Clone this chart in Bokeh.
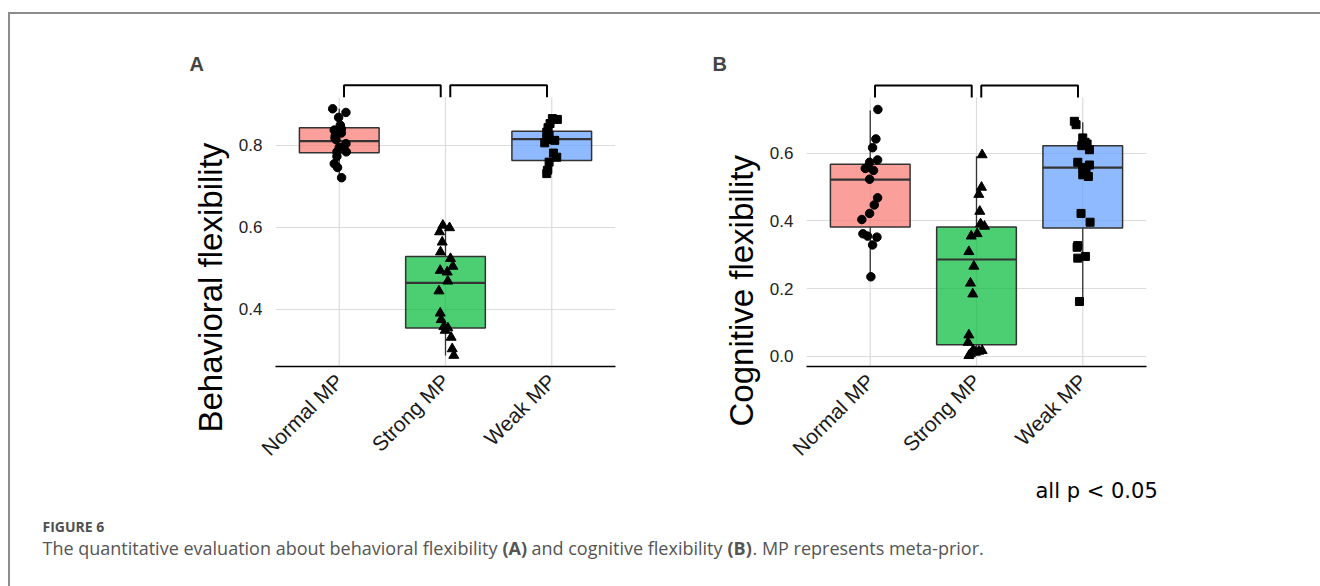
import math
from bokeh.plotting import figure
from bokeh.models import Range1d, FixedTicker, Title, PrintfTickFormatter
from bokeh.layouts import column, row
from bokeh.embed import file_html
from bokeh.resources import INLINE
from bokeh.core.properties import value

# ---------------- data ----------------
categories = ["Normal MP", "Strong MP", "Weak MP"]
cat_pos = [1, 2, 3]
box_colors = ["#F8766D", "#00BA38", "#619CFF"]
markers = ["circle", "triangle", "square"]

# Panel A: behavioral flexibility (box statistics)
a_q1 = [0.782, 0.355, 0.763]
a_med = [0.810, 0.465, 0.815]
a_q3 = [0.843, 0.529, 0.834]
a_lo = [0.721, 0.288, 0.731]
a_hi = [0.889, 0.605, 0.865]

# Panel A points
a_normal = [0.889, 0.880, 0.868, 0.849, 0.840, 0.837, 0.830, 0.824, 0.818, 0.814, 0.804, 0.795, 0.784, 0.784, 0.773, 0.755, 0.746, 0.721]
a_normal_jit = [-0.062, 0.063, -0.006, 0.010, 0.020, -0.047, 0.020, -0.037, -0.040, -0.031, 0.063, 0.000, -0.022, 0.066, -0.022, -0.047, -0.016, 0.022]
a_strong = [0.605, 0.599, 0.589, 0.564, 0.540, 0.524, 0.505, 0.495, 0.491, 0.469, 0.445, 0.391, 0.375, 0.358, 0.355, 0.349, 0.332, 0.304, 0.288]
a_strong_jit = [-0.025, 0.038, -0.056, -0.031, -0.047, 0.047, 0.069, -0.050, 0.016, 0.022, -0.062, -0.050, -0.041, -0.016, 0.022, -0.003, 0.053, 0.063, 0.078]
a_weak = [0.865, 0.863, 0.853, 0.843, 0.832, 0.824, 0.814, 0.812, 0.806, 0.781, 0.771, 0.759, 0.739, 0.731]
a_weak_jit = [0.006, 0.053, -0.016, -0.035, -0.047, -0.025, -0.047, 0.028, -0.066, 0.016, 0.047, -0.025, -0.041, -0.047]

# Panel B: cognitive flexibility (box statistics)
b_q1 = [0.382, 0.034, 0.379]
b_med = [0.522, 0.286, 0.557]
b_q3 = [0.567, 0.382, 0.622]
b_lo = [0.235, 0.002, 0.162]
b_hi = [0.726, 0.591, 0.691]

# Panel B points
b_normal = [0.729, 0.642, 0.616, 0.580, 0.573, 0.558, 0.555, 0.549, 0.523, 0.468, 0.447, 0.422, 0.404, 0.362, 0.355, 0.352, 0.329, 0.235]
b_normal_jit = [0.072, 0.053, 0.022, 0.069, -0.006, -0.025, -0.047, 0.031, -0.006, 0.069, 0.038, -0.006, -0.079, -0.069, -0.025, 0.063, 0.022, 0.006]
b_strong = [0.595, 0.499, 0.478, 0.428, 0.391, 0.384, 0.362, 0.355, 0.309, 0.266, 0.216, 0.184, 0.063, 0.041, 0.019, 0.017, 0.015, 0.012, 0.007, 0.002]
b_strong_jit = [0.053, 0.047, 0.022, 0.031, 0.038, 0.075, 0.006, -0.050, -0.072, -0.025, -0.057, -0.035, -0.072, -0.079, -0.031, 0.053, 0.022, -0.009, -0.057, -0.072]
b_weak = [0.694, 0.684, 0.645, 0.632, 0.627, 0.622, 0.610, 0.573, 0.565, 0.558, 0.552, 0.536, 0.531, 0.422, 0.396, 0.327, 0.322, 0.295, 0.290, 0.162]
b_weak_jit = [-0.079, -0.063, 0.000, 0.022, 0.041, -0.009, 0.063, -0.047, 0.063, 0.000, 0.031, 0.000, 0.053, -0.016, 0.069, -0.047, -0.053, 0.025, -0.047, -0.031]

# significance comparisons (pairs of category positions)
comparisons = [(1, 2), (2, 3)]

y_ticks_a = [0.4, 0.6, 0.8]
y_ticks_b = [0.0, 0.2, 0.4, 0.6]

panel_labels = ["A", "B"]
y_titles = ["Behavioral flexibility", "Cognitive flexibility"]
sig_note = "all p < 0.05"
fig_label = "FIGURE 6"
caption_parts = [
    "The quantitative evaluation about behavioral flexibility ",
    "(A)",
    " and cognitive flexibility ",
    "(B)",
    ". MP represents meta-prior.",
]
caption_styles = ["normal", "bold", "normal", "bold", "normal"]
caption_widths = [460, 29, 196, 25, 230]   # rendered width of each part (px)

FONT = "Liberation Sans"
GRID = "#dcdcdc"
BORDER = "#8c8c8c"

ROW_H = 460
MB_TOP = 68
MB_BOTTOM = 108


def make_panel(width, mb_left, mb_right, yr, yticks, q1, med, q3, lo, hi,
               pts, jits, grid_top, br_bottom, br_top, label, label_offset, ytitle, ytitle_offset):
    p = figure(width=width, height=ROW_H, x_range=Range1d(0.4, 3.6), y_range=Range1d(*yr),
               output_backend="svg", toolbar_location=None,
               min_border_left=mb_left, min_border_right=mb_right,
               min_border_top=MB_TOP, min_border_bottom=MB_BOTTOM)
    p.outline_line_color = None
    p.background_fill_color = "white"
    p.border_fill_color = "white"
    p.xgrid.visible = False
    p.ygrid.ticker = FixedTicker(ticks=yticks)
    p.ygrid.grid_line_color = GRID
    p.ygrid.grid_line_width = 1.2

    # vertical grid lines (stop at panel top, below the brackets)
    p.segment(x0=cat_pos, y0=[yr[0]] * 3, x1=cat_pos, y1=[grid_top] * 3,
              line_color=GRID, line_width=1.2)

    # whiskers
    p.segment(x0=cat_pos, y0=q3, x1=cat_pos, y1=hi, line_color="#333333", line_width=1.3)
    p.segment(x0=cat_pos, y0=lo, x1=cat_pos, y1=q1, line_color="#333333", line_width=1.3)
    # boxes
    bw = 0.75
    p.vbar(x=cat_pos, width=bw, bottom=q1, top=q3, fill_color=box_colors, fill_alpha=0.7,
           line_color="#333333", line_width=1.5)
    # medians
    p.segment(x0=[c - bw / 2 for c in cat_pos], y0=med, x1=[c + bw / 2 for c in cat_pos], y1=med,
              line_color="#333333", line_width=2.2)

    # points
    sizes = {"circle": 8.5, "triangle": 10, "square": 8}
    for c, ys, js, mk in zip(cat_pos, pts, jits, markers):
        p.scatter(x=[c + j for j in js], y=ys, marker=mk, size=sizes[mk],
                  fill_color="black", line_color="black")

    # significance brackets
    inset = 0.045
    xs, ys = [], []
    for a, b in comparisons:
        xs.append([a + inset, a + inset, b - inset, b - inset])
        ys.append([br_bottom, br_top, br_top, br_bottom])
    p.multi_line(xs=xs, ys=ys, line_color="black", line_width=2)

    # axes
    p.xaxis.ticker = FixedTicker(ticks=cat_pos)
    p.xaxis.major_label_overrides = {c: n for c, n in zip(cat_pos, categories)}
    p.xaxis.major_label_orientation = math.pi / 4
    p.xaxis.major_label_text_font = FONT
    p.xaxis.major_label_text_font_size = "21px"
    p.xaxis.major_label_text_color = "#1a1a1a"
    p.xaxis.major_tick_line_color = None
    p.xaxis.minor_tick_line_color = None
    p.xaxis.axis_line_color = "black"
    p.xaxis.axis_line_width = 1.5
    p.xaxis.major_label_standoff = 5

    p.yaxis.ticker = FixedTicker(ticks=yticks)
    p.yaxis.formatter = PrintfTickFormatter(format="%.1f")
    p.yaxis.major_label_text_font = FONT
    p.yaxis.major_label_text_font_size = "17px"
    p.yaxis.major_label_text_color = "#222222"
    p.yaxis.axis_line_color = None
    p.yaxis.major_tick_line_color = None
    p.yaxis.minor_tick_line_color = None
    p.yaxis.major_label_standoff = 7

    p.title.text = label
    p.title.align = "left"
    p.title.offset = label_offset
    p.title.text_font = FONT
    p.title.text_font_size = "20px"
    p.title.text_font_style = "bold"
    p.title.standoff = 15

    p.add_layout(Title(text=ytitle, align="left", text_font=FONT, text_font_size="33px",
                       text_font_style="normal", text_color="black", standoff=14,
                       offset=ytitle_offset), "left")
    return p


pA = make_panel(650, 265, 45, (0.261, 0.953), y_ticks_a, a_q1, a_med, a_q3, a_lo, a_hi,
                [a_normal, a_strong, a_weak], [a_normal_jit, a_strong_jit, a_weak_jit],
                0.917, 0.917, 0.946, panel_labels[0], -86, y_titles[0], -66)
pB = make_panel(660, 146, 174, (-0.030, 0.8086), y_ticks_b, b_q1, b_med, b_q3, b_lo, b_hi,
                [b_normal, b_strong, b_weak], [b_normal_jit, b_strong_jit, b_weak_jit],
                0.764, 0.764, 0.800, panel_labels[1], -94, y_titles[1], -60)

# caption strip
CAP_W, CAP_H = 1310, 112
pCap = figure(width=CAP_W, height=CAP_H, x_range=Range1d(0, CAP_W), y_range=Range1d(CAP_H, 0),
              output_backend="svg", toolbar_location=None, min_border=0)
pCap.axis.visible = False
pCap.grid.visible = False
pCap.outline_line_color = None
pCap.background_fill_color = "white"
pCap.border_fill_color = "white"

pCap.text(x=[1025], y=[16], text=[sig_note], text_font=value("DejaVu Sans"), text_font_size="21px",
          text_color="black", text_baseline="middle")
pCap.text(x=[32], y=[52], text=[fig_label], text_font=value("Open Sans"), text_font_size="14px",
          text_font_style="bold", text_color="#505050", text_baseline="middle")

cap_x = 32
for txt, style, w in zip(caption_parts, caption_styles, caption_widths):
    pCap.text(x=[cap_x], y=[73], text=[txt], text_font=value("Open Sans"), text_font_size="18px",
              text_font_style=style, text_color="#555555", text_baseline="middle")
    cap_x += w

layout = column(row(pA, pB), pCap, margin=(12, 0, 0, 8),
                styles={"border-top": f"2px solid {BORDER}", "border-left": f"2px solid {BORDER}"})
open("out.html", "w").write(file_html(layout, INLINE))
